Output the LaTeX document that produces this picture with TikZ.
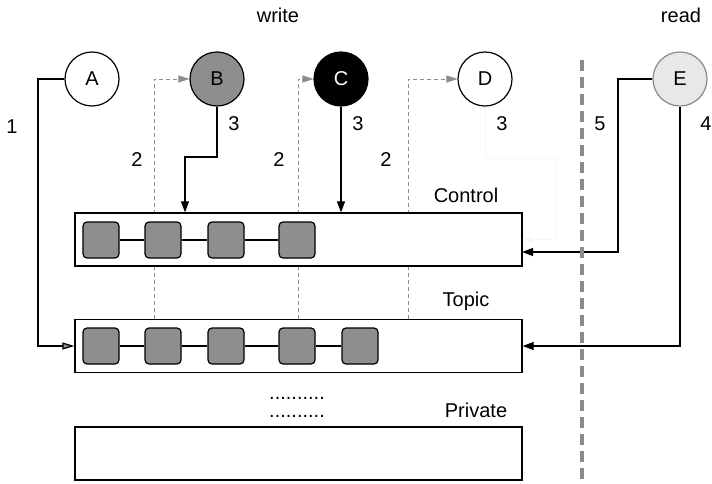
\documentclass[tikz,border=0pt]{standalone}
\usepackage{fontspec}
\setmainfont{Liberation Sans}
\usetikzlibrary{arrows.meta}
\definecolor{midgray}{HTML}{8E8E8E}
\definecolor{lightfill}{HTML}{E8E8E8}
\definecolor{ringgray}{HTML}{8A8A8A}
\definecolor{dashgray}{HTML}{8C8C8C}
\definecolor{ghost}{HTML}{F7F7F7}
\begin{document}
\begin{tikzpicture}[x=1pt,y=-1pt,
  every node/.style={font=\fontsize{20}{22}\selectfont},
  agent/.style={circle,draw=black,line width=1.2pt,minimum size=54pt,inner sep=0pt},
  store/.style={draw=black,line width=1.3pt,fill=white,minimum width=447pt,minimum height=53pt,inner sep=0pt},
  msg/.style={draw=black,line width=1.2pt,fill=midgray,rounded corners=4pt,minimum size=36pt,inner sep=0pt},
  link/.style={line width=1.2pt},
  arr/.style={line width=1.2pt,-{Triangle[length=11pt,width=8pt]}},
  garr/.style={line width=1.2pt,-{Triangle[length=12pt,width=7pt,fill=midgray]}},
  dline/.style={dashgray,line width=1pt,dash pattern=on 4pt off 3pt,-{Triangle[length=11pt,width=7pt,fill=midgray]}},
  lbl/.style={inner sep=0pt},
  dotrows/.style={inner sep=0pt,anchor=base,align=center,font=\fontsize{20}{18}\selectfont}
]
\useasboundingbox (0,0) rectangle (712,483);

% storage boxes
\node[store] (topic) at (298.5,346) {};
\node[store] (private) at (298.5,453.5) {};

% agents
\node[agent,fill=white] (A) at (92,79) {A};
\node[agent,fill=midgray] (B) at (217,79) {B};
\node[agent,fill=black,text=white] (C) at (341,79) {C};
\node[agent,fill=white] (D) at (485,79) {D};
\node[agent,fill=lightfill,draw=ringgray] (E) at (680,79) {E};

% dashed register lines (behind control box)
\draw[dline] (154,0 |- topic.north) |- (B.west);
\draw[dline] (298,0 |- topic.north) |- (C.west);
\draw[dline] (408,0 |- topic.north) |- (D.west);

\node[store] (ctrl) at (298.5,239.5) {};

% faint connector from D
\draw[ghost,line width=1pt,-{Triangle[length=10pt,width=7pt]}] (D.south) -- (485,158) -- (556,158) |- (ctrl.east);

% messages in control
\node[msg] (c1) at (101,240) {};
\node[msg] (c2) at (163,240) {};
\node[msg] (c3) at (226,240) {};
\node[msg] (c4) at (297,240) {};
\draw[link] (c1) -- (c2);
\draw[link] (c2) -- (c3);
\draw[link] (c3) -- (c4);

% messages in topic
\node[msg] (t1) at (101,346) {};
\node[msg] (t2) at (163,346) {};
\node[msg] (t3) at (226,346) {};
\node[msg] (t4) at (297,346) {};
\node[msg] (t5) at (360,346) {};
\draw[link] (t1) -- (t2);
\draw[link] (t2) -- (t3);
\draw[link] (t3) -- (t4);
\draw[link] (t4) -- (t5);

% write connectors
\draw[garr] (A.west) -- (38,79) |- (topic.west);
\draw[arr] (B.south) -- (217,157) -- (185,157) -- (185,0 |- ctrl.north);
\draw[arr] (C.south) -- (C.south |- ctrl.north);

% read connectors
\coordinate (ctrlin) at (522,252);
\draw[arr] (E.west) -- (618,79) |- (ctrlin);
\draw[arr] (E.south) |- (topic.east);

% separator
\draw[dashgray,line width=3.5pt,dash pattern=on 11pt off 6pt] (582,60) -- (582,483);

% labels
\node[lbl] (lwrite) at (278,15) {write};
\node[lbl] (lread) at (681,15) {read};
\node[lbl] (l1) at (12,127) {1};
\node[lbl] (l2a) at (137,160) {2};
\node[lbl] (l3a) at (234,124) {3};
\node[lbl] (l2b) at (279,160) {2};
\node[lbl] (l3b) at (358,124) {3};
\node[lbl] (l2c) at (386,160) {2};
\node[lbl] (l3c) at (502,124) {3};
\node[lbl] (l5) at (600,124) {5};
\node[lbl] (l4) at (706,124) {4};
\node[lbl] (lctrl) at (466,195) {Control};
\node[lbl] (ltopic) at (466,301) {Topic};
\node[lbl] (lpriv) at (476,410) {Private};
\node[dotrows] (dots) at (297,417.5) {..........\\..........};
\end{tikzpicture}
\end{document}
